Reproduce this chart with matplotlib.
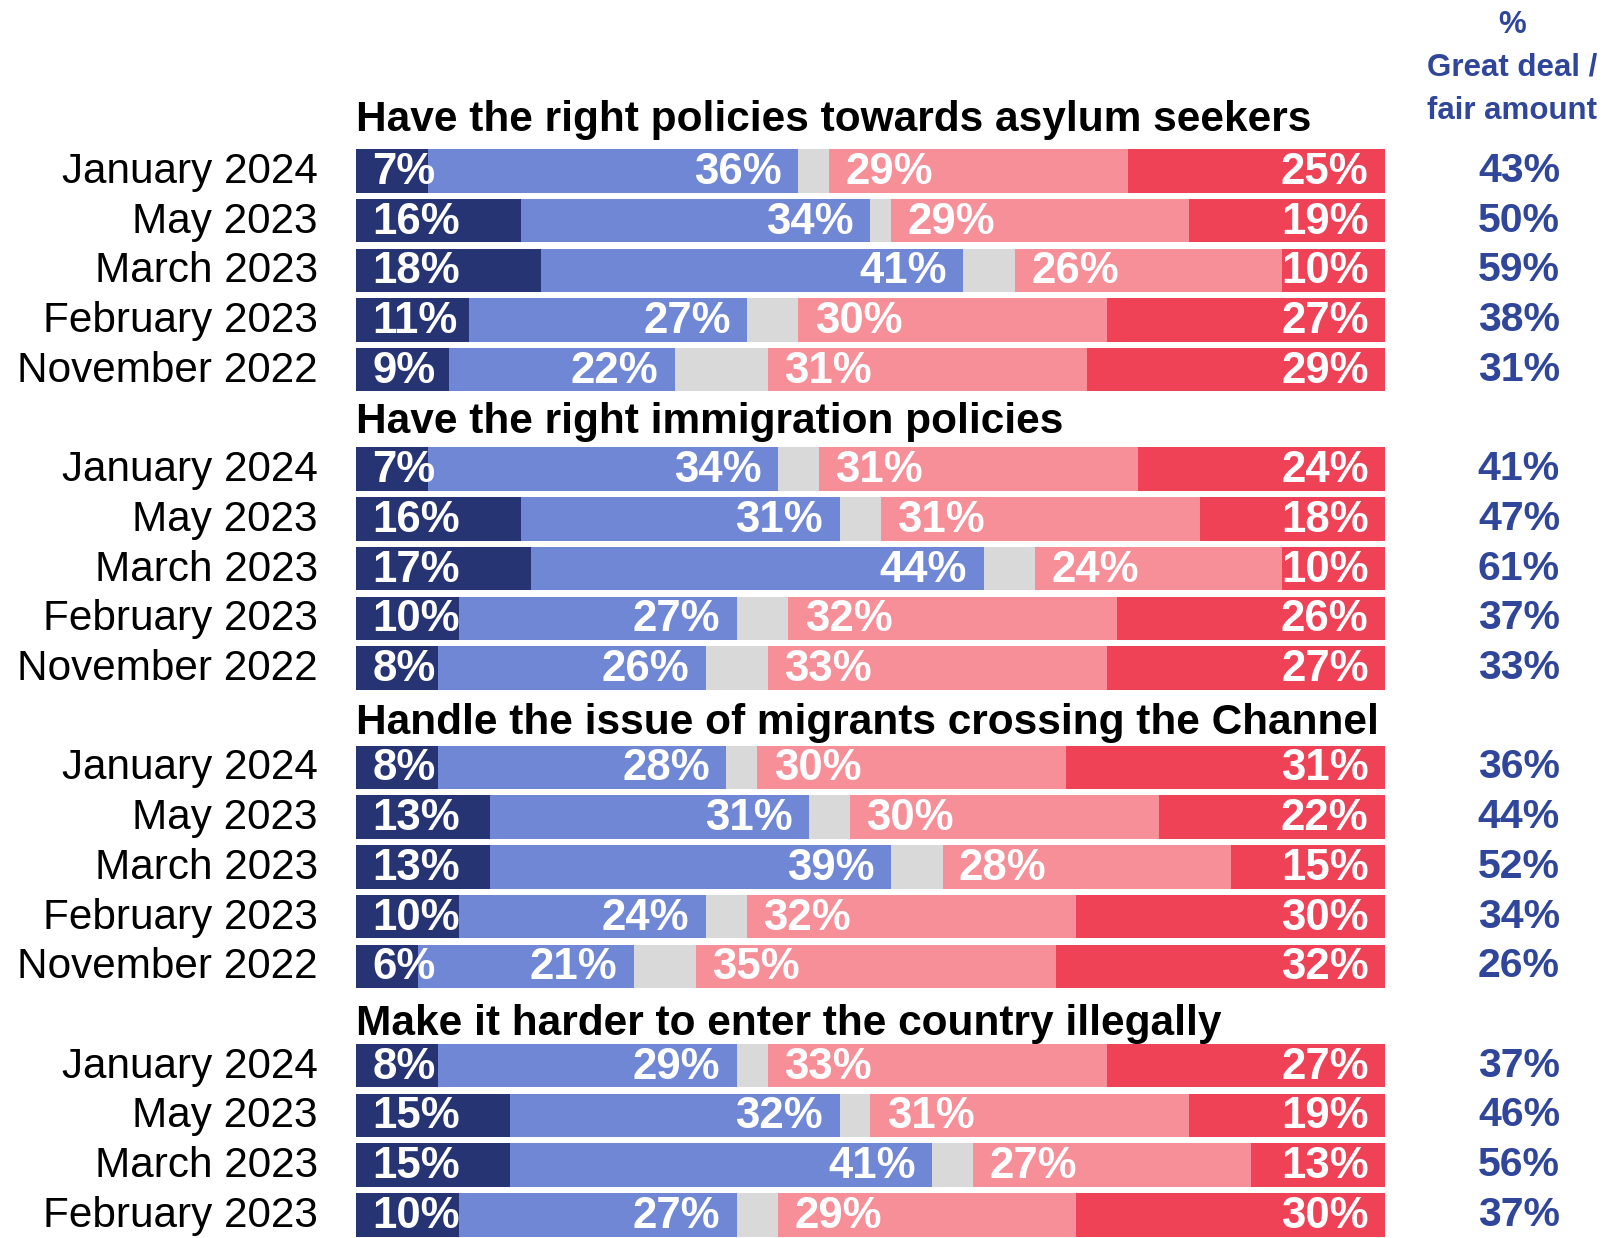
import matplotlib
matplotlib.use("Agg")
import matplotlib.pyplot as plt
import matplotlib.transforms as mtransforms

plt.rcParams['font.family'] = ['Liberation Sans', 'DejaVu Sans']

### survey data (share saying government has handled it...)
titles = [
    "Have the right policies towards asylum seekers",
    "Have the right immigration policies",
    "Handle the issue of migrants crossing the Channel",
    "Make it harder to enter the country illegally",
]
waves = ["January 2024", "May 2023", "March 2023", "February 2023", "November 2022"]

# great deal / fair amount / not very much / not at all, per wave (rows), per statement
great_deal = [[7, 16, 18, 11, 9], [7, 16, 17, 10, 8], [8, 13, 13, 10, 6], [8, 15, 15, 10]]
fair_amount = [[36, 34, 41, 27, 22], [34, 31, 44, 27, 26], [28, 31, 39, 24, 21], [29, 32, 41, 27]]
not_much = [[29, 29, 26, 30, 31], [31, 31, 24, 32, 33], [30, 30, 28, 32, 35], [33, 31, 27, 29]]
not_at_all = [[25, 19, 10, 27, 29], [24, 18, 10, 26, 27], [31, 22, 15, 30, 32], [27, 19, 13, 30]]
net_good = [[43, 50, 59, 38, 31], [41, 47, 61, 37, 33], [36, 44, 52, 34, 26], [37, 46, 56, 37]]

c_dark = '#263473'
c_mid = '#7087d5'
c_dk = '#d9d9d9'
c_pink = '#f78f98'
c_red = '#f04256'
c_net = '#2f469b'

# titles sit a bit closer to their bars further down the page
title_gap = [1.02, 0.94, 0.9, 0.84]

fig = plt.figure(figsize=(16.24, 12.38), dpi=100)
# bars span 356..1385 px horizontally; slots are ~49.7 px apart, slot 0 centred at y=121 px
ax = fig.add_axes([356 / 1624, 0, 1029 / 1624, 1])
ax.set_xlim(0, 100)
ax.set_ylim((1238 - 121.2) / 49.71, -121.2 / 49.71)
ax.axis('off')

left_lbl = mtransforms.blended_transform_factory(fig.transFigure, ax.transData)
h = 0.875
pad = 1.6

slot = 0
for g, title in enumerate(titles):
    slot += 1  # one slot per group for the title line
    ax.text(0, slot - title_gap[g], title, fontsize=30.5, fontweight='bold', ha='left', va='center')
    for i in range(len(great_deal[g])):
        a, b, c, d = great_deal[g][i], fair_amount[g][i], not_much[g][i], not_at_all[g][i]
        dk = 100 - (a + b + c + d)
        lefts = [0, a, a + b, a + b + dk, a + b + dk + c]
        widths = [a, b, dk, c, d]
        ax.barh(slot, widths, left=lefts, height=h,
                color=[c_dark, c_mid, c_dk, c_pink, c_red], linewidth=0)
        kw = dict(fontsize=31.5, fontweight='bold', color='white', va='center')
        ax.text(pad, slot + 0.03, f"{a}%", ha='left', **kw)
        ax.text(a + b - pad, slot + 0.03, f"{b}%", ha='right', **kw)
        ax.text(a + b + dk + pad, slot + 0.03, f"{c}%", ha='left', **kw)
        ax.text(100 - pad, slot + 0.03, f"{d}%", ha='right', **kw)

        ax.text(318 / 1624, slot + 0.02, waves[i], transform=left_lbl, fontsize=30.4,
                ha='right', va='center', color='black')
        ax.text(1519 / 1624, slot, f"{net_good[g][i]}%", transform=left_lbl,
                fontsize=29.5, fontweight='bold', ha='center', va='center', color=c_net)
        slot += 1

fig.text(1512 / 1624, 1 - 68 / 1238, "%\nGreat deal /\nfair amount", fontsize=22.5,
         fontweight='bold', color=c_net, ha='center', va='center', linespacing=1.58)

plt.savefig('out.png', dpi=100)
